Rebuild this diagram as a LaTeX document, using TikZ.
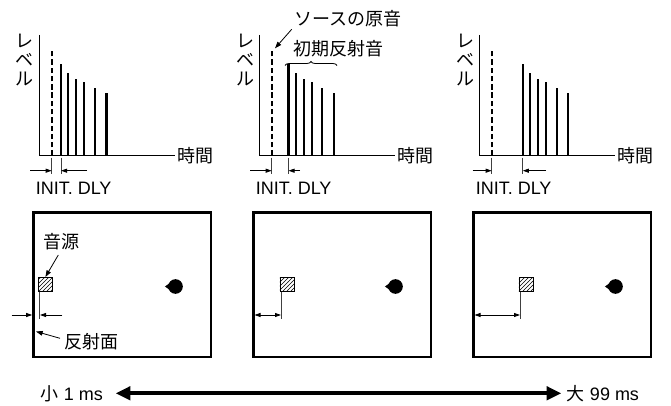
\documentclass[tikz,border=0pt]{standalone}
\usepackage{fontspec}
\setmainfont{Liberation Sans}
\newfontfamily\jp{Noto Sans CJK JP}
\usetikzlibrary{positioning, arrows.meta, patterns, decorations.pathreplacing}

\begin{document}
\begin{tikzpicture}[
  x=0.75pt, y=-0.75pt,
  font=\fontsize{13.5}{16}\selectfont,
  axisline/.style={line width=1.1pt},
  direct/.style={line width=1.6pt, dash pattern=on 4pt off 2.2pt},
  reflect/.style={line width=1.6pt},
  dim/.style={line width=0.6pt, -{Triangle[length=4.5pt, width=3pt]}},
  dimboth/.style={line width=0.6pt, {Triangle[length=4.5pt, width=3pt]}-{Triangle[length=4.5pt, width=3pt]}},
  extline/.style={line width=0.6pt, black!75},
  room/.style={line width=2pt},
  srcbox/.style={draw, line width=0.6pt, minimum size=10.5pt, inner sep=0pt, pattern=north east lines},
  ear/.style={circle, fill, minimum size=11pt, inner sep=0pt},
  jp/.style={font=\jp\fontsize{13.5}{13.9}\selectfont, inner sep=1pt},
  pointer/.style={line width=0.6pt, -{Triangle[length=5pt, width=3.5pt]}},
  span/.style={line width=3pt, {Triangle[length=11pt, width=10pt]}-{Triangle[length=11pt, width=10pt]}}
]
\useasboundingbox (0,0) rectangle (671,406);

% three settings of the initial delay
\foreach \i/\fb/\re/\le/\ss in {0/21.5/26/21.5/4.5, 1/29/11.7/21.5/26, 2/43.3/23.3/19/45} {
\begin{scope}[shift={(\i*220,0)}]
  % level over time
  \coordinate (org\i) at (39.5,155.7);
  \draw[axisline] (39.5,35) -- (org\i) -- (175,155.7);
  \node[jp, anchor=west] (time\i) at (175.5,155.7) {時間};
  \node[jp, align=center] (level\i) at (25,60) {レ\\ベ\\ル};
  \coordinate (dir\i) at (51.7,155.7);
  \draw[direct] (dir\i) -- (51.7,49);
  \foreach \dx/\h [count=\j] in {0/64.3, 7.3/72.7, 15.3/79, 23.4/81.7, 33.9/88, 45.5/93.3}
    \draw[reflect] ({39.5+\fb+\dx},155.7) -- ({39.5+\fb+\dx},\h);
  \coordinate (first\i) at ({39.5+\fb},155.7);
  \draw[extline] ([shift={(0,2)}]dir\i) -- ++(0,16);
  \draw[extline] ([shift={(0,2)}]first\i) -- ++(0,16);
  \draw[dim] ([shift={(-\le,15)}]dir\i) -- ([shift={(0,15)}]dir\i);
  \draw[dim] ([shift={(\re,15)}]first\i) -- ([shift={(0,15)}]first\i);
  \node[anchor=west, inner sep=0pt] (dly\i) at (35.5,188) {INIT. DLY};
  % room
  \draw[room] (33.5,212.5) rectangle (211,357);
  \node[srcbox, anchor=north west] (src\i) at ({33.5+\ss},277) {};
  \node[ear] (ear\i) at (175.5,286.5) {};
  \fill ([shift={(-3,0)}]ear\i.west) -- ++(5,-3.4) -- ++(0,6.8) -- cycle;
  \draw[extline] ([shift={(1.5,0)}]src\i.south west) -- ++(0,27);
  \ifnum\i>0
    \draw[dimboth] (34.5,315) -- ({33.5+\ss+1.5},315);
  \fi
\end{scope}
}

% labels of the middle panel
\node[jp] (origin) at (348,18.5) {ソースの原音};
\draw[pointer] (291.7,29.3) -- (275,48.3);
\node[jp] (early) at (338.5,48.3) {初期反射音};
\draw[line width=0.6pt, decorate, decoration={brace, amplitude=3pt}] (285,65.5) -- (337,65.5);

% labels of the left room
\node[jp] (source) at (61.7,241.7) {音源};
\draw[pointer] (58.3,255) -- (src0.north);
\node[jp] (wall) at (91,341.7) {反射面};
\draw[pointer] (60,338.3) -- (36,331.5);
\draw[dim] (11.7,315) -- (32.2,315);
\draw[dim] (62.3,315) -- (40,315);

% range of the setting
\node (small) at (72,393.3) {{\jp 小} 1 ms};
\node (large) at (603,393.3) {{\jp 大} 99 ms};
\draw[span] ([shift={(8,0)}]small.east) -- ([shift={(-1,0)}]large.west);
\end{tikzpicture}
\end{document}
